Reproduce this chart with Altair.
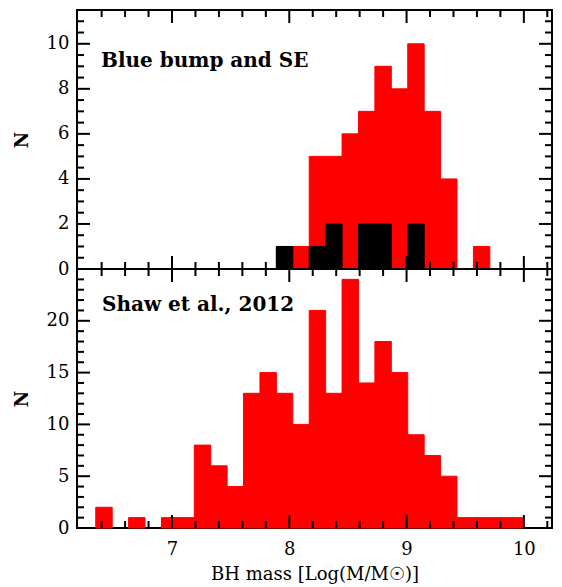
import altair as alt
import pandas as pd

# ---- data ----
bin_start = 6.35
bin_width = 0.14
# Shaw et al. 2012 histogram counts (bottom panel)
shaw_counts = [2, 0, 1, 0, 1, 1, 8, 6, 4, 13, 15, 13, 10, 21, 13, 24, 14, 18, 15, 9, 7, 5, 1, 1, 1, 1]
# Blue bump and SE (top panel, red)
bb_counts = [0, 0, 0, 0, 0, 0, 0, 0, 0, 0, 0, 1, 1, 5, 5, 6, 7, 9, 8, 10, 7, 4, 0, 1, 0, 0]
# black subset (top panel)
se_counts = [0, 0, 0, 0, 0, 0, 0, 0, 0, 0, 0, 1, 0, 1, 2, 0, 2, 2, 0, 2, 0, 0, 0, 0, 0, 0]

x_major = [7, 8, 9, 10]
x_minor = [6.4, 6.6, 6.8, 7.2, 7.4, 7.6, 7.8, 8.2, 8.4, 8.6, 8.8, 9.2, 9.4, 9.6, 9.8, 10.2]
top_y_major = [0, 2, 4, 6, 8, 10]
top_y_minor = [0.5, 1, 1.5, 2.5, 3, 3.5, 4.5, 5, 5.5, 6.5, 7, 7.5, 8.5, 9, 9.5, 10.5, 11]
bot_y_major = [0, 5, 10, 15, 20, 25]
bot_y_label_values = [0, 5, 10, 15, 20]
bot_y_minor = [v for v in range(1, 25) if v % 5 != 0]

top_label = "Blue bump and SE"
bot_label = "Shaw et al., 2012"
x_title = "BH mass [Log(M/M\u2609)]"

W, H = 475, 259
FONT = "DejaVu Serif"
RED = "#ff0000"


def hist_df(counts):
    rows = []
    for i, c in enumerate(counts):
        if c > 0:
            x0 = round(bin_start + i * bin_width, 4)
            rows.append({"x0": x0, "x1": round(x0 + bin_width, 4), "n": c, "z": 0})
    return pd.DataFrame(rows)


xs = alt.Scale(domain=[6.19, 10.24], nice=False, zero=False)


def y_axis(vals):
    return alt.Axis(values=vals, ticks=False, domain=False, grid=False,
                    labelPadding=8, title="N", titleAngle=270, titleX=-55, titleY=H / 2,
                    titleAlign="center", titleBaseline="middle", titleFontWeight="bold")


def tick_layers(y_major, y_minor, ys, xax, yax):
    layers = []
    for vals, L in ((x_major, 13), (x_minor, 7)):
        base = alt.Chart(pd.DataFrame({"v": vals})).mark_rule(color="black", strokeWidth=2)
        xe = alt.X("v:Q", scale=xs, axis=xax)
        layers.append(base.encode(x=xe, y=alt.value(H), y2=alt.value(H - L)))
        layers.append(base.encode(x=xe, y=alt.value(0), y2=alt.value(L)))
    for vals, L in ((y_major, 13), (y_minor, 7)):
        base = alt.Chart(pd.DataFrame({"v": vals})).mark_rule(color="black", strokeWidth=2)
        ye = alt.Y("v:Q", scale=ys, axis=yax)
        layers.append(base.encode(y=ye, x=alt.value(0), x2=alt.value(L)))
        layers.append(base.encode(y=ye, x=alt.value(W - L), x2=alt.value(W)))
    return layers


def label_layer(text, x, y):
    return alt.Chart(pd.DataFrame({"t": [text]})).mark_text(
        align="left", baseline="alphabetic", font=FONT, fontSize=20, fontWeight="bold", color="black"
    ).encode(x=alt.value(x), y=alt.value(y), text="t:N")


def bars(df, color, ys, xax, yax):
    return alt.Chart(df).mark_rect(color=color, stroke=color, strokeWidth=1).encode(
        x=alt.X("x0:Q", scale=xs, axis=xax), x2="x1:Q",
        y=alt.Y("n:Q", scale=ys, axis=yax), y2="z:Q")


# ---- top panel ----
ys_top = alt.Scale(domain=[0, 11.5], nice=False, zero=True)
yax_top = y_axis(top_y_major)
top = alt.layer(
    bars(hist_df(bb_counts), RED, ys_top, None, yax_top),
    bars(hist_df(se_counts), "black", ys_top, None, yax_top),
    label_layer(top_label, 24, 57),
    *tick_layers(top_y_major, top_y_minor, ys_top, None, yax_top),
).properties(width=W, height=H)

# ---- bottom panel ----
ys_bot = alt.Scale(domain=[0, 25], nice=False, zero=True)
yax_bot = y_axis(bot_y_label_values)
xax_bot = alt.Axis(values=x_major, ticks=False, domain=False, grid=False,
                   labelPadding=12, title=x_title, titleY=51, titleBaseline="alphabetic",
                   titleFontWeight="normal")
bottom = alt.layer(
    bars(hist_df(shaw_counts), RED, ys_bot, xax_bot, yax_bot),
    label_layer(bot_label, 25, 42),
    *tick_layers(bot_y_major, bot_y_minor, ys_bot, xax_bot, yax_bot),
).properties(width=W, height=H)

chart = alt.vconcat(top, bottom, spacing=0, bounds="flush").properties(
    padding={"left": 4, "top": 0, "right": 0, "bottom": 0}
).configure_view(stroke="black", strokeWidth=2).configure_axis(
    labelFont=FONT, titleFont=FONT, labelFontSize=18, titleFontSize=18,
    labelColor="black", titleColor="black"
).configure_concat(spacing=0)

chart.save("out.html", embed_options={"renderer": "svg", "actions": False})
